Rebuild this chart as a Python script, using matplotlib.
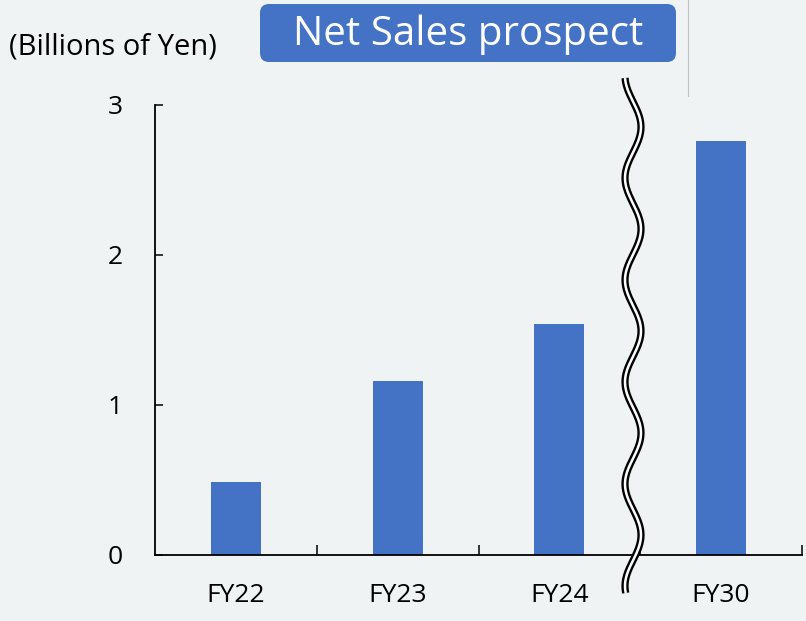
import numpy as np
import matplotlib.pyplot as plt
from matplotlib.patches import FancyBboxPatch

# Net sales by fiscal year (billions of yen)
categories = ["FY22", "FY23", "FY24", "FY30"]
net_sales = [0.49, 1.16, 1.54, 2.76]
y_ticks = [0, 1, 2, 3]

BLUE = "#4472C4"
BG = "#F0F3F4"

plt.rcParams["font.family"] = ["Open Sans", "DejaVu Sans"]

W, H = 806, 621
fig = plt.figure(figsize=(W / 100, H / 100), dpi=100, facecolor=BG)

ax = fig.add_axes([155 / W, 1 - 555 / H, 647 / W, 450 / H])
ax.set_facecolor(BG)
x = np.arange(len(categories))
ax.bar(x, net_sales, width=0.31, color=BLUE, zorder=2)

ax.set_xlim(-0.5, len(categories) - 0.5)
ax.set_ylim(0, 3)
ax.set_yticks(y_ticks)
ax.set_yticklabels([str(v) for v in y_ticks], fontsize=19)
ax.tick_params(axis="y", direction="in", length=5.5, width=1.1, pad=23)

# boundary ticks between categories, labels at the centres
ax.set_xticks(x + 0.5)
ax.set_xticklabels([])
ax.tick_params(axis="x", which="major", direction="in", length=7.5, width=1.1)
ax.set_xticks(x, minor=True)
ax.set_xticklabels(categories, minor=True, fontsize=19)
ax.tick_params(axis="x", which="minor", length=0, pad=20)

for side in ("top", "right"):
    ax.spines[side].set_visible(False)
for side in ("left", "bottom"):
    ax.spines[side].set_linewidth(1.3)
    ax.spines[side].set_color("black")

# overlay in pixel coordinates for the decorations
ov = fig.add_axes([0, 0, 1, 1], facecolor="none")
ov.set_xlim(0, W)
ov.set_ylim(H, 0)
ov.axis("off")

# thin divider at the top right
ov.plot([688, 688], [0, 96], color="#C4C4C4", lw=0.8)

# wavy axis break between FY24 and FY30
yy = np.linspace(78, 593, 400)
xx = 633 + 8 * np.cos(2 * np.pi * (yy - 127) / 102)
ov.plot(xx, yy, color="black", lw=5.2, solid_capstyle="butt", zorder=5)
ov.plot(xx, yy, color="white", lw=1.8, solid_capstyle="butt", zorder=6)

# title badge
box = FancyBboxPatch((260, 4), 416, 58, boxstyle="round,pad=0,rounding_size=9",
                     facecolor=BLUE, edgecolor="none", zorder=3)
ov.add_patch(box)
ov.text(468, 35, "Net Sales prospect", color="white", fontsize=29,
        ha="center", va="center", zorder=4)

ov.text(9, 47, "(Billions of Yen)", color="black", fontsize=21,
        ha="left", va="center")

fig.savefig("out.png", dpi=100, facecolor=BG)
